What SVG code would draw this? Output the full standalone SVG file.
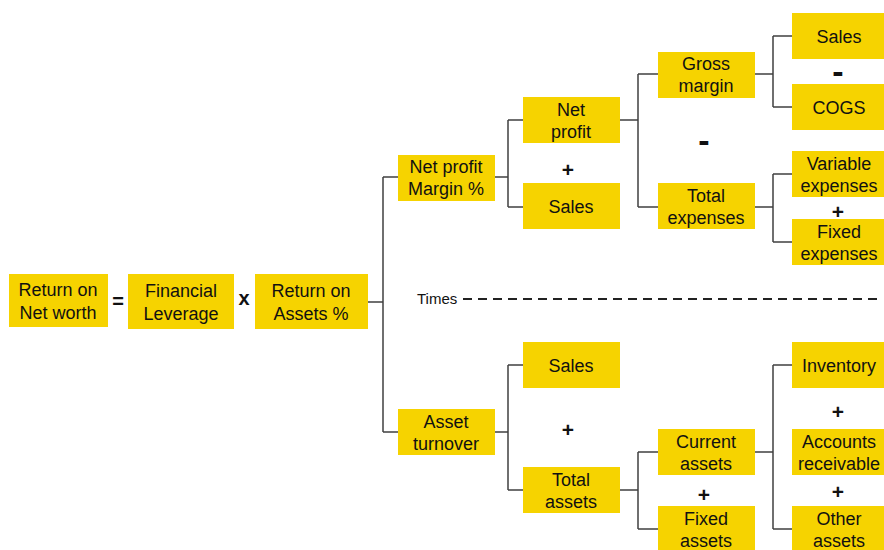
<svg xmlns="http://www.w3.org/2000/svg" width="884" height="550" viewBox="0 0 884 550">
<style>
.b{fill:#F6D300}
.t{font-family:"Liberation Sans",Arial,sans-serif;font-size:18px;fill:#111;text-anchor:middle}
.op{font-family:"Liberation Sans",Arial,sans-serif;font-weight:bold;fill:#111;text-anchor:middle}
.c{fill:none;stroke:#404040;stroke-width:1.5}
</style>
<rect width="884" height="550" fill="#fff"/>
<g id="connectors" class="c">
<path d="M368,302H383M383,177V432M383,177H398M383,432H398"/>
<path d="M495,177H508M508,120V207M508,120H523M508,207H523"/>
<path d="M620,120H638M638,74V207M638,74H658M638,207H658"/>
<path d="M755,74H773M773,36V107M773,36H792M773,107H792"/>
<path d="M755,207H773M773,174V242M773,174H792M773,242H792"/>
<path d="M495,432H508M508,365V490M508,365H523M508,490H523"/>
<path d="M620,490H638M638,452V529M638,452H658M638,529H658"/>
<path d="M755,452H773M773,365V529M773,365H792M773,529H792"/>
<path d="M463,299H880" stroke="#222" stroke-width="2" stroke-dasharray="9,6"/>
</g>
<g id="root"><rect class="b" x="9" y="274" width="99" height="53"/><text class="t" x="58" y="296">Return on</text><text class="t" x="58" y="319">Net worth</text></g>
<g id="leverage"><rect class="b" x="128" y="274" width="106" height="55"/><text class="t" x="181" y="297">Financial</text><text class="t" x="181" y="320">Leverage</text></g>
<g id="roa"><rect class="b" x="255" y="274" width="113" height="55"/><text class="t" x="311" y="297">Return on</text><text class="t" x="311" y="320">Assets %</text></g>
<g id="npm"><rect class="b" x="398" y="155" width="97" height="46"/><text class="t" x="446" y="173">Net profit</text><text class="t" x="446" y="195">Margin %</text></g>
<g id="netprofit"><rect class="b" x="523" y="97" width="97" height="46"/><text class="t" x="571" y="116">Net</text><text class="t" x="571" y="138">profit</text></g>
<g id="sales1"><rect class="b" x="523" y="183" width="97" height="46"/><text class="t" x="571" y="213">Sales</text></g>
<g id="gross"><rect class="b" x="658" y="52" width="97" height="46"/><text class="t" x="706" y="70">Gross</text><text class="t" x="706" y="92">margin</text></g>
<g id="totexp"><rect class="b" x="658" y="183" width="97" height="46"/><text class="t" x="706" y="202">Total</text><text class="t" x="706" y="224">expenses</text></g>
<g id="sales2"><rect class="b" x="792" y="13" width="93" height="46"/><text class="t" x="839" y="43">Sales</text></g>
<g id="cogs"><rect class="b" x="792" y="84" width="93" height="46"/><text class="t" x="839" y="114">COGS</text></g>
<g id="varexp"><rect class="b" x="792" y="151" width="93" height="46"/><text class="t" x="839" y="170">Variable</text><text class="t" x="839" y="192">expenses</text></g>
<g id="fixexp"><rect class="b" x="792" y="219" width="93" height="46"/><text class="t" x="839" y="238">Fixed</text><text class="t" x="839" y="260">expenses</text></g>
<g id="turnover"><rect class="b" x="398" y="409" width="97" height="46"/><text class="t" x="446" y="428">Asset</text><text class="t" x="446" y="450">turnover</text></g>
<g id="sales3"><rect class="b" x="523" y="342" width="97" height="46"/><text class="t" x="571" y="372">Sales</text></g>
<g id="totassets"><rect class="b" x="523" y="467" width="97" height="46"/><text class="t" x="571" y="486">Total</text><text class="t" x="571" y="508">assets</text></g>
<g id="current"><rect class="b" x="658" y="429" width="97" height="46"/><text class="t" x="706" y="448">Current</text><text class="t" x="706" y="470">assets</text></g>
<g id="fixedassets"><rect class="b" x="658" y="506" width="97" height="46"/><text class="t" x="706" y="525">Fixed</text><text class="t" x="706" y="547">assets</text></g>
<g id="inventory"><rect class="b" x="792" y="342" width="93" height="46"/><text class="t" x="839" y="372">Inventory</text></g>
<g id="receivable"><rect class="b" x="792" y="429" width="93" height="46"/><text class="t" x="839" y="448">Accounts</text><text class="t" x="839" y="470">receivable</text></g>
<g id="other"><rect class="b" x="792" y="506" width="93" height="46"/><text class="t" x="839" y="525">Other</text><text class="t" x="839" y="547">assets</text></g>
<g id="operators">
<text class="op" x="118" y="308" font-size="20">=</text>
<text class="op" x="244" y="305" font-size="20">x</text>
<text class="op" x="568" y="177" font-size="21">+</text>
<text class="op" x="568" y="437" font-size="21">+</text>
<text class="op" x="704" y="152" font-size="34">-</text>
<text class="op" x="838" y="83" font-size="34">-</text>
<text class="op" x="838" y="219" font-size="21">+</text>
<text class="op" x="838" y="419" font-size="21">+</text>
<text class="op" x="838" y="499" font-size="21">+</text>
<text class="op" x="704" y="502" font-size="21">+</text>
</g>
<text x="417" y="304" font-family="'Liberation Sans',Arial,sans-serif" font-size="15" fill="#111">Times</text>
</svg>
